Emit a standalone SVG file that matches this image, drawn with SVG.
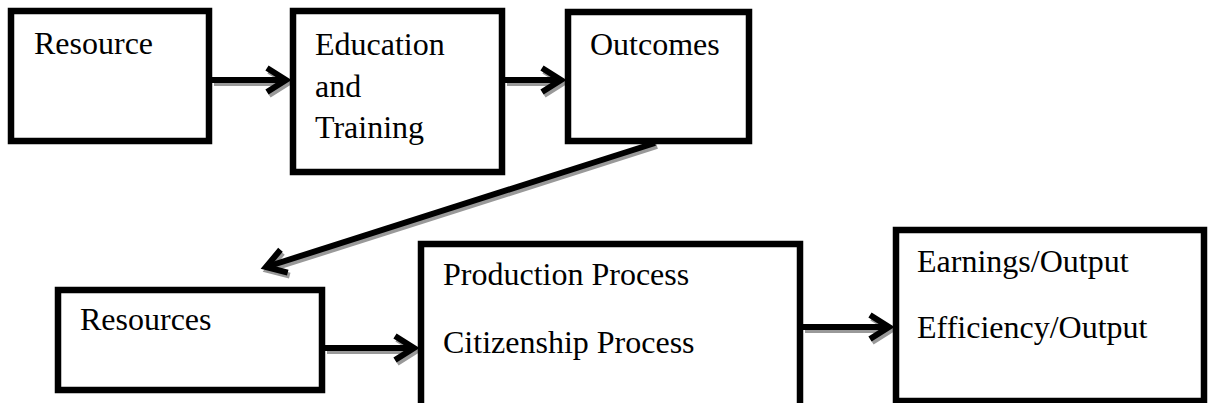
<svg xmlns="http://www.w3.org/2000/svg" width="1208" height="403" viewBox="0 0 1208 403">
<style>
.box{fill:#fff;stroke:#000;stroke-width:6.5}
.t{font-family:"Liberation Serif","Times New Roman",serif;font-size:32px;fill:#000}
.ln{fill:none;stroke:#000;stroke-width:6}
.sh{fill:none;stroke:#999;stroke-width:6}
</style>
<defs>
<marker id="ah" markerUnits="userSpaceOnUse" viewBox="-25 -15 30 30" markerWidth="30" markerHeight="30" refX="0" refY="0" orient="auto" overflow="visible">
<path d="M-19,-12 L0,0 L-19,12" fill="none" stroke="#000" stroke-width="6" stroke-linejoin="miter"/>
</marker>
<marker id="ahs" markerUnits="userSpaceOnUse" viewBox="-25 -15 30 30" markerWidth="30" markerHeight="30" refX="0" refY="0" orient="auto" overflow="visible">
<path d="M-19,-12 L0,0 L-19,12" fill="none" stroke="#999" stroke-width="6" stroke-linejoin="miter"/>
</marker>
</defs>
<g id="connectors">
<g transform="translate(2,3)">
<line class="sh" x1="212" y1="80" x2="286" y2="80" marker-end="url(#ahs)"/>
<line class="sh" x1="505" y1="80" x2="561" y2="80" marker-end="url(#ahs)"/>
<line class="sh" x1="655" y1="143" x2="266" y2="267" marker-end="url(#ahs)"/>
<line class="sh" x1="325" y1="348" x2="414" y2="348" marker-end="url(#ahs)"/>
<line class="sh" x1="803" y1="327" x2="889" y2="327" marker-end="url(#ahs)"/>
</g>
<line class="ln" x1="212" y1="80" x2="286" y2="80" marker-end="url(#ah)"/>
<line class="ln" x1="505" y1="80" x2="561" y2="80" marker-end="url(#ah)"/>
<line class="ln" x1="655" y1="143" x2="266" y2="267" marker-end="url(#ah)"/>
<line class="ln" x1="325" y1="348" x2="414" y2="348" marker-end="url(#ah)"/>
<line class="ln" x1="803" y1="327" x2="889" y2="327" marker-end="url(#ah)"/>
</g>
<g id="resource">
<rect class="box" x="11" y="11" width="198" height="130"/>
<text class="t" x="34" y="54">Resource</text>
</g>
<g id="education">
<rect class="box" x="293" y="11" width="209" height="161"/>
<text class="t" x="315" y="55">Education</text>
<text class="t" x="315" y="97">and</text>
<text class="t" x="315" y="138">Training</text>
</g>
<g id="outcomes">
<rect class="box" x="568" y="12" width="181" height="129"/>
<text class="t" x="590" y="55">Outcomes</text>
</g>
<g id="resources">
<rect class="box" x="58" y="290" width="264" height="100"/>
<text class="t" x="80" y="330">Resources</text>
</g>
<g id="process">
<rect class="box" x="421" y="244" width="379" height="170"/>
<text class="t" x="443" y="285">Production Process</text>
<text class="t" x="443" y="353">Citizenship Process</text>
</g>
<g id="output">
<rect class="box" x="896" y="230" width="308" height="171"/>
<text class="t" x="917" y="272">Earnings/Output</text>
<text class="t" x="917" y="338">Efficiency/Output</text>
</g>
</svg>
